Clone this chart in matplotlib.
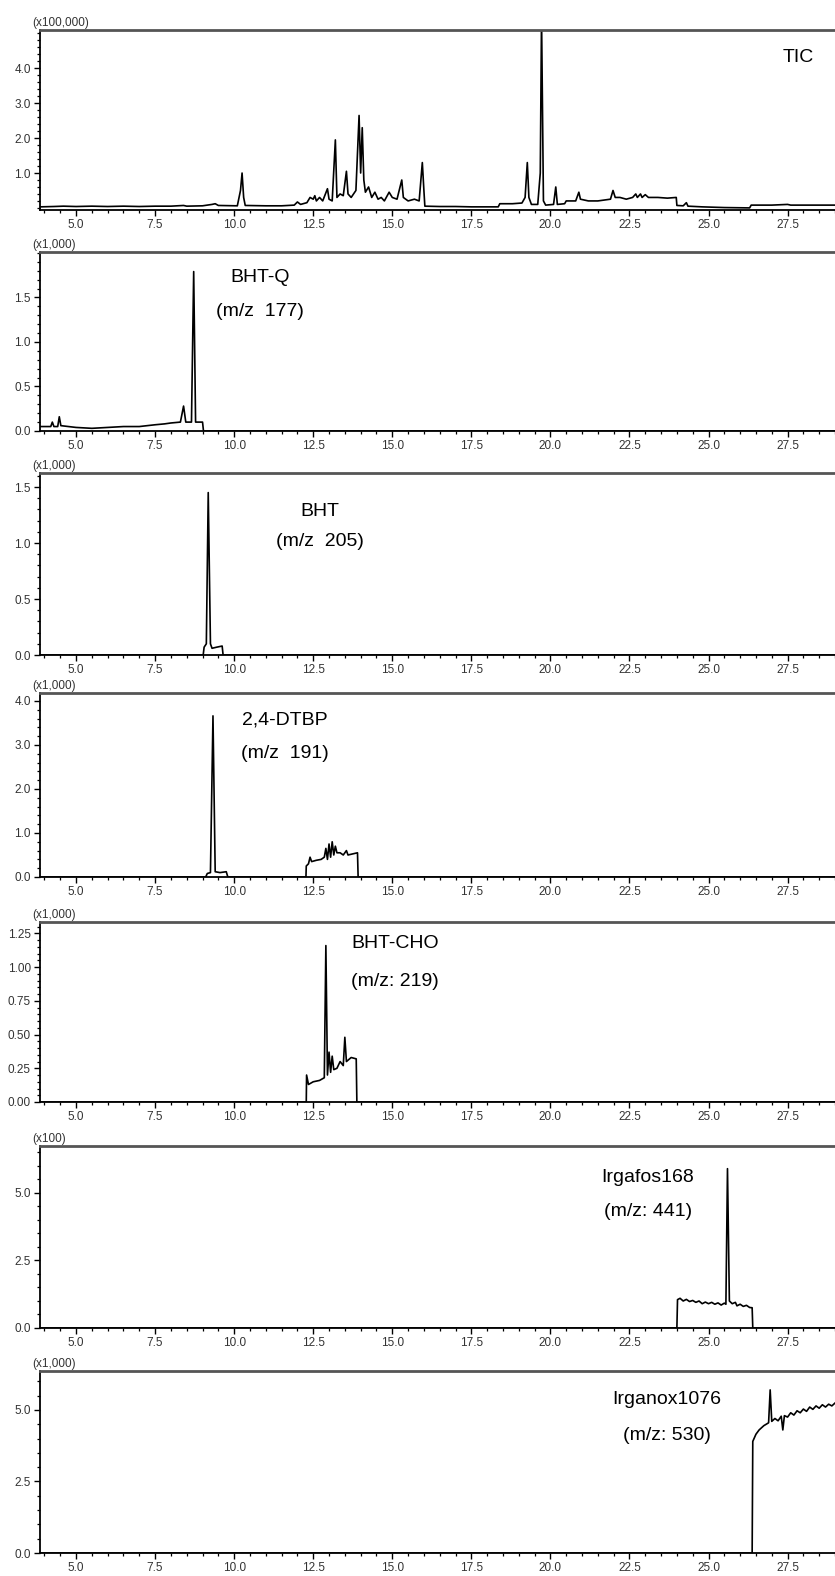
import matplotlib
matplotlib.use("Agg")
import matplotlib.pyplot as plt
from matplotlib.ticker import MultipleLocator, FormatStrFormatter

plt.rcParams['font.family'] = ['Liberation Sans Narrow', 'Liberation Sans', 'DejaVu Sans']

# retention time (min) / intensity pairs
tic_t = [3.86, 4.3, 4.6, 5.0, 5.5, 6.0, 6.5, 7.0, 7.5, 8.0, 8.4, 8.5, 9.0, 9.3, 9.4, 9.5,
         10.1, 10.2, 10.25, 10.3, 10.35, 11.0, 11.5, 11.9, 12.0, 12.1, 12.3, 12.4, 12.5,
         12.55, 12.6, 12.7, 12.8, 12.95, 13.0, 13.1, 13.2, 13.25, 13.35, 13.45, 13.55,
         13.6, 13.7, 13.85, 13.95, 14.0, 14.05, 14.1, 14.15, 14.25, 14.35, 14.45, 14.55,
         14.65, 14.75, 14.9, 15.0, 15.15, 15.3, 15.35, 15.5, 15.7, 15.85, 15.95, 16.0,
         16.03, 16.5, 17.0, 17.5, 18.0, 18.35, 18.4, 18.8, 19.1, 19.2, 19.27, 19.32, 19.4,
         19.6, 19.68, 19.72, 19.78, 19.85, 20.1, 20.17, 20.22, 20.45, 20.5, 20.8, 20.9,
         20.95, 21.2, 21.5, 21.9, 21.98, 22.05, 22.2, 22.4, 22.6, 22.7, 22.75, 22.85, 22.9,
         23.0, 23.1, 23.4, 23.7, 23.98, 24.0, 24.2, 24.3, 24.35, 24.8, 25.5, 26.3, 26.35,
         27.0, 27.5, 27.6, 28.5, 29.0]
tic_y = [0.03, 0.04, 0.05, 0.04, 0.05, 0.04, 0.05, 0.04, 0.05, 0.05, 0.07, 0.05, 0.06, 0.1, 0.12, 0.07,
         0.06, 0.5, 1.0, 0.3, 0.07, 0.06, 0.06, 0.08, 0.17, 0.1, 0.15, 0.3, 0.25,
         0.35, 0.2, 0.3, 0.2, 0.55, 0.25, 0.2, 1.95, 0.3, 0.4, 0.35, 1.05,
         0.4, 0.3, 0.5, 2.65, 1.0, 2.3, 0.8, 0.45, 0.6, 0.3, 0.45, 0.25,
         0.3, 0.2, 0.45, 0.3, 0.25, 0.8, 0.3, 0.2, 0.25, 0.2, 1.3, 0.5,
         0.05, 0.04, 0.04, 0.03, 0.03, 0.03, 0.12, 0.12, 0.14, 0.3, 1.3, 0.3, 0.1,
         0.1, 1.0, 5.5, 0.2, 0.08, 0.1, 0.6, 0.1, 0.12, 0.2, 0.2, 0.45,
         0.25, 0.2, 0.2, 0.25, 0.5, 0.3, 0.3, 0.25, 0.3, 0.4, 0.3, 0.4, 0.3,
         0.38, 0.3, 0.3, 0.28, 0.3, 0.07, 0.06, 0.15, 0.05, 0.03, 0.01, 0.0, 0.08,
         0.08, 0.1, 0.08, 0.08, 0.08]

bhtq_t = [3.86, 4.2, 4.25, 4.3, 4.42, 4.47, 4.52, 5.0, 5.5, 6.0, 6.5, 7.0, 7.5, 7.8, 8.0,
          8.3, 8.4, 8.47, 8.65, 8.72, 8.78, 9.0, 9.03, 29.0]
bhtq_y = [0.05, 0.05, 0.1, 0.05, 0.05, 0.16, 0.06, 0.04, 0.03, 0.04, 0.05, 0.05, 0.07, 0.08, 0.09,
          0.1, 0.28, 0.1, 0.1, 1.79, 0.1, 0.1, 0.0, 0.0]

bht_t = [3.86, 9.02, 9.05, 9.12, 9.18, 9.25, 9.3, 9.45, 9.62, 9.65, 29.0]
bht_y = [0.0, 0.0, 0.07, 0.1, 1.45, 0.1, 0.06, 0.07, 0.08, 0.0, 0.0]

dtbp_t = [3.86, 9.1, 9.15, 9.25, 9.33, 9.4, 9.55, 9.75, 9.8, 12.27, 12.28, 12.35, 12.4, 12.45,
          12.6, 12.75, 12.85, 12.9, 12.95, 13.0, 13.05, 13.1, 13.15, 13.2, 13.25, 13.35,
          13.45, 13.55, 13.6, 13.9, 13.92, 29.0]
dtbp_y = [0.0, 0.0, 0.08, 0.1, 3.66, 0.12, 0.1, 0.12, 0.0, 0.0, 0.25, 0.3, 0.45, 0.35,
          0.38, 0.4, 0.45, 0.65, 0.4, 0.75, 0.45, 0.8, 0.5, 0.7, 0.55, 0.55,
          0.5, 0.6, 0.5, 0.55, 0.0, 0.0]

cho_t = [3.86, 12.28, 12.29, 12.35, 12.5, 12.7, 12.85, 12.9, 12.95, 13.0, 13.05, 13.1, 13.15,
         13.25, 13.35, 13.45, 13.5, 13.55, 13.7, 13.86, 13.88, 29.0]
cho_y = [0.0, 0.0, 0.2, 0.13, 0.15, 0.16, 0.18, 1.16, 0.2, 0.37, 0.22, 0.34, 0.24,
         0.25, 0.3, 0.27, 0.48, 0.3, 0.33, 0.32, 0.0, 0.0]

irgafos_t = [3.86, 24.0, 24.02, 24.1, 24.2, 24.3, 24.4, 24.5, 24.6, 24.7, 24.8, 24.9, 25.0,
             25.1, 25.2, 25.3, 25.4, 25.5, 25.55, 25.6, 25.66, 25.75, 25.85, 25.9, 26.0,
             26.1, 26.2, 26.3, 26.38, 26.4, 29.0]
irgafos_y = [0.0, 0.0, 1.05, 1.1, 1.0, 1.06, 0.98, 1.02, 0.95, 1.0, 0.9, 0.96, 0.9,
             0.95, 0.88, 0.93, 0.85, 0.92, 0.88, 5.9, 1.0, 0.9, 0.95, 0.82, 0.88,
             0.8, 0.84, 0.76, 0.75, 0.0, 0.0]

irganox_t = [3.86, 26.38, 26.4, 26.5, 26.6, 26.75, 26.9, 26.95, 27.0, 27.1, 27.2, 27.3, 27.35,
             27.4, 27.5, 27.6, 27.7, 27.8, 27.9, 28.0, 28.1, 28.2, 28.3, 28.4, 28.5, 28.6,
             28.7, 28.8, 28.9, 29.0]
irganox_y = [0.0, 0.0, 3.9, 4.15, 4.3, 4.45, 4.55, 5.7, 4.6, 4.7, 4.62, 4.78, 4.3,
             4.8, 4.75, 4.9, 4.82, 4.97, 4.9, 5.03, 4.95, 5.1, 5.02, 5.14, 5.06, 5.18,
             5.1, 5.2, 5.14, 5.24]

W, H = 835, 1576
fig = plt.figure(figsize=(W / 100, H / 100), dpi=100)

# (top px, bottom px, ylim, labelled ticks, minor step, format, scale label, trace, name, m/z text, label px)
panels = [
    (30, 210, (-0.06, 5.1), [1.0, 2.0, 3.0, 4.0], 0.2, '%.1f', '(x100,000)', (tic_t, tic_y),
     'TIC', None, (798, 57)),
    (252, 431, (0, 2.01), [0.0, 0.5, 1.0, 1.5], 0.1, '%.1f', '(x1,000)', (bhtq_t, bhtq_y),
     'BHT-Q', '(m/z  177)', (260, 278, 312)),
    (473, 655, (0, 1.625), [0.0, 0.5, 1.0, 1.5], 0.1, '%.1f', '(x1,000)', (bht_t, bht_y),
     'BHT', '(m/z  205)', (320, 512, 542)),
    (693, 877, (0, 4.18), [0.0, 1.0, 2.0, 3.0, 4.0], 0.2, '%.1f', '(x1,000)', (dtbp_t, dtbp_y),
     '2,4-DTBP', '(m/z  191)', (285, 720, 754)),
    (922, 1102, (0, 1.335), [0.0, 0.25, 0.5, 0.75, 1.0, 1.25], 0.05, '%.2f', '(x1,000)',
     (cho_t, cho_y), 'BHT-CHO', '(m/z: 219)', (395, 943, 982)),
    (1146, 1328, (0, 6.74), [0.0, 2.5, 5.0], 0.5, '%.1f', '(x100)', (irgafos_t, irgafos_y),
     'Irgafos168', '(m/z: 441)', (648, 1177, 1212)),
    (1371, 1553, (0, 6.36), [0.0, 2.5, 5.0], 0.5, '%.1f', '(x1,000)', (irganox_t, irganox_y),
     'Irganox1076', '(m/z: 530)', (667, 1400, 1435)),
]

left = 40
for top, bottom, ylim, yticks, minor, fmt, scale, (t, y), name, mz, pos in panels:
    ax = fig.add_axes([left / W, 1 - bottom / H, (W - left) / W, (bottom - top) / H])
    ax.plot(t, y, color='black', lw=1.2)
    ax.set_xlim(3.86, 29.0)
    ax.set_ylim(*ylim)
    ax.xaxis.set_major_locator(MultipleLocator(2.5))
    ax.xaxis.set_minor_locator(MultipleLocator(0.5))
    ax.xaxis.set_major_formatter(FormatStrFormatter('%.1f'))
    ax.set_yticks(yticks)
    ax.yaxis.set_minor_locator(MultipleLocator(minor))
    ax.yaxis.set_major_formatter(FormatStrFormatter(fmt))
    ax.tick_params(which='major', length=4, width=1.0, labelsize=8.5,
                   labelcolor='#333333', pad=2.5)
    ax.tick_params(which='minor', length=2.2, width=0.9)
    ax.spines['right'].set_visible(False)
    ax.spines['top'].set_color('#555555')
    ax.spines['top'].set_linewidth(2.0)
    for s in ('left', 'bottom'):
        ax.spines[s].set_linewidth(1.3)
    fig.text((left - 8) / W, 1 - (top - 7) / H, scale, fontsize=8.5, color='#333333',
             ha='left', va='center')
    fig.text(pos[0] / W, 1 - pos[1] / H, name, fontsize=14, ha='center', va='center')
    if mz is not None:
        fig.text(pos[0] / W, 1 - pos[2] / H, mz, fontsize=14, ha='center', va='center')

fig.savefig('out.png', dpi=100)
